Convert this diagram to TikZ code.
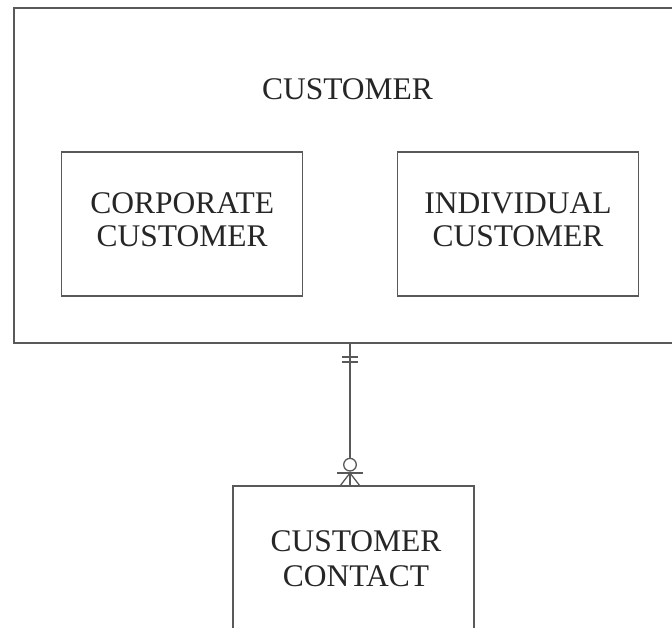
\documentclass[tikz,border=0pt]{standalone}
\usepackage{fontspec}
\setmainfont{Liberation Serif}
\begin{document}
\begin{tikzpicture}[x=1pt,y=-1pt,
  ent/.style={draw=black!65,line width=1.3pt,rectangle,inner sep=0pt,outer sep=0pt},
  lbl/.style={font=\fontsize{31.5}{33.5}\selectfont,text=black!85,align=center,inner sep=0pt},
  conn/.style={draw=black!65,line width=1.3pt}]
\useasboundingbox (0,0) rectangle (672,628);
\clip (0,0) rectangle (672,628);
\fill[white] (0,0) rectangle (672,628);
% entities
\node[ent,minimum width=686pt,minimum height=335pt] (cust) at (357,175.5) {};
\node[ent,minimum width=240.5pt,minimum height=144pt] (corp) at (182,224) {};
\node[ent,minimum width=240.5pt,minimum height=144pt] (indiv) at (518,224) {};
\node[ent,minimum width=241pt,minimum height=160pt] (contact) at (353.5,566) {};
% labels
\node[lbl,anchor=base] (tcust) at (347.5,99.3) {CUSTOMER};
\node[lbl,anchor=base] (tcorp) at (182.2,246.7) {CORPORATE\\CUSTOMER};
\node[lbl,anchor=base] (tind) at (518,246.7) {INDIVIDUAL\\CUSTOMER};
\node[lbl,anchor=base,font=\fontsize{31.5}{35}\selectfont] (tcon) at (356,586.5) {CUSTOMER\\CONTACT};
% connector
\coordinate (cx) at (350,0);
\coordinate (top) at (cust.south -| cx);
\coordinate (bot) at (contact.north -| cx);
\draw[conn] (top) -- ([yshift=27.6pt]bot);
% one and only one
\draw[conn] ([xshift=-8pt,yshift=-14pt]top) -- ([xshift=8pt,yshift=-14pt]top);
\draw[conn] ([xshift=-8pt,yshift=-19pt]top) -- ([xshift=8pt,yshift=-19pt]top);
% zero or many
\draw[conn] ([yshift=21.3pt]bot) circle[radius=6.3pt];
\draw[conn] ([xshift=-13pt,yshift=13pt]bot) -- ([xshift=13pt,yshift=13pt]bot);
\draw[conn] ([xshift=-10pt]bot) -- ([yshift=13pt]bot) -- ([xshift=10pt]bot);
\draw[conn] ([yshift=13pt]bot) -- (bot);
\end{tikzpicture}
\end{document}
